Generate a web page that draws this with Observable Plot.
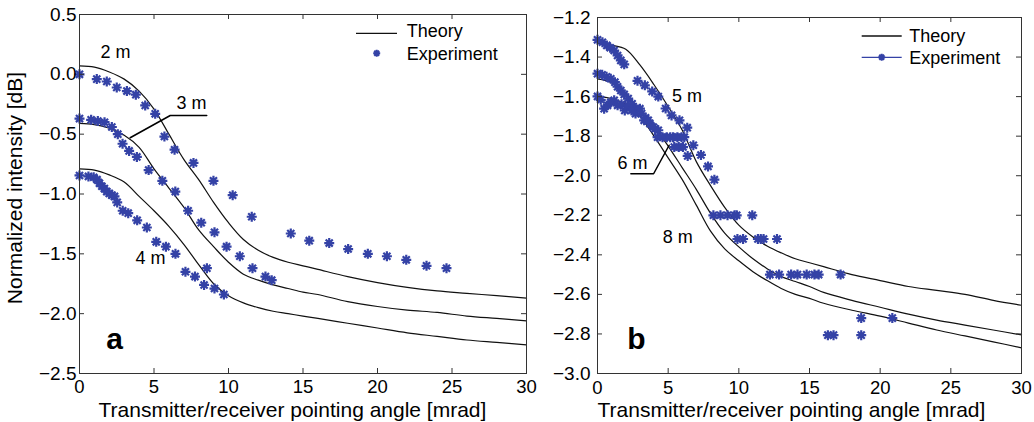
<!DOCTYPE html>
<html><head><meta charset="utf-8">
<script src="https://cdn.jsdelivr.net/npm/d3@7"></script>
<script src="https://cdn.jsdelivr.net/npm/@observablehq/plot@0.6"></script>
<style>
html,body{margin:0;padding:0;background:#fff;}
#wrap{display:flex;width:1034px;height:422px;overflow:hidden;}
#wrap svg{display:block;}
</style></head><body><div id="wrap"></div>
<script>
// ---------- data ----------
const angleGrid = [0,1,2,3,4,5,6,7,8,9,10,11,12,13,14,15,16,18,20,22,24,26,28,30];
const xTicks = [0,5,10,15,20,25,30];
const yTicksA = [-2.5,-2.0,-1.5,-1.0,-0.5,0.0,0.5];
const yTicksB = [-3.0,-2.8,-2.6,-2.4,-2.2,-2.0,-1.8,-1.6,-1.4,-1.2];

// panel a theory (2 m, 3 m, 4 m)
const theoryA2 = [0.07,0.06,0.02,-0.04,-0.14,-0.29,-0.50,-0.71,-0.88,-1.07,-1.24,-1.38,-1.47,-1.53,-1.57,-1.60,-1.63,-1.69,-1.74,-1.78,-1.81,-1.83,-1.85,-1.87];
const theoryA3 = [-0.41,-0.42,-0.45,-0.51,-0.61,-0.79,-0.95,-1.11,-1.30,-1.44,-1.57,-1.67,-1.72,-1.76,-1.79,-1.82,-1.84,-1.90,-1.94,-1.97,-1.99,-2.02,-2.04,-2.06];
const theoryA4 = [-0.79,-0.80,-0.84,-0.90,-1.02,-1.14,-1.27,-1.42,-1.59,-1.75,-1.85,-1.91,-1.95,-1.98,-2.00,-2.02,-2.04,-2.08,-2.12,-2.16,-2.19,-2.22,-2.24,-2.26];

// panel a experiment
const expA2 = [[0,0.0],[1.16,-0.04],[1.83,-0.06],[2.5,-0.11],[3.18,-0.14],[3.78,-0.17],[4.41,-0.26],[5.08,-0.33],[5.7,-0.52],[6.38,-0.63],[7.65,-0.74],[8.99,-0.89],[10.28,-1.01],[11.56,-1.19],[14.18,-1.33],[15.42,-1.39],[16.76,-1.41],[18.03,-1.46],[19.35,-1.50],[20.63,-1.52],[21.93,-1.55],[23.29,-1.60],[24.63,-1.62]];
const expA3 = [[0,-0.37],[0.78,-0.38],[1.23,-0.39],[1.68,-0.40],[2.17,-0.44],[2.57,-0.50],[2.89,-0.58],[3.33,-0.64],[3.85,-0.69],[4.64,-0.80],[5.56,-0.89],[6.43,-0.98],[7.29,-1.14],[8.17,-1.24],[9.06,-1.32],[9.87,-1.44],[10.76,-1.52],[11.61,-1.62],[12.48,-1.69],[12.9,-1.72]];
const expA4 = [[0,-0.845],[0.6,-0.853],[0.95,-0.86],[1.18,-0.88],[1.34,-0.91],[1.5,-0.935],[1.67,-0.955],[1.83,-0.98],[2.0,-0.995],[2.17,-1.01],[2.35,-1.02],[2.53,-1.07],[2.9,-1.14],[3.27,-1.16],[3.87,-1.22],[4.52,-1.28],[5.15,-1.40],[5.8,-1.44],[6.44,-1.50],[7.11,-1.65],[7.75,-1.69],[8.36,-1.76],[8.55,-1.62],[9.06,-1.79],[9.69,-1.84]];

// panel b theory (5 m, 6 m, 8 m)
const theoryB5 = [-1.33,-1.34,-1.36,-1.44,-1.54,-1.65,-1.77,-1.93,-2.05,-2.16,-2.25,-2.31,-2.355,-2.39,-2.42,-2.44,-2.46,-2.50,-2.53,-2.56,-2.58,-2.60,-2.63,-2.655];
const theoryB6 = [-1.51,-1.53,-1.59,-1.67,-1.75,-1.85,-1.96,-2.07,-2.19,-2.29,-2.36,-2.42,-2.47,-2.51,-2.535,-2.56,-2.59,-2.63,-2.665,-2.70,-2.73,-2.755,-2.78,-2.805];
const theoryB8 = [-1.60,-1.61,-1.64,-1.70,-1.80,-1.91,-2.02,-2.15,-2.28,-2.37,-2.43,-2.485,-2.53,-2.57,-2.60,-2.62,-2.645,-2.68,-2.71,-2.745,-2.78,-2.81,-2.84,-2.87];

// panel b experiment
const expB5 = [[0,-1.313],[0.35,-1.325],[0.66,-1.341],[0.9,-1.353],[1.18,-1.367],[1.42,-1.392],[1.65,-1.417],[1.89,-1.437],[2.83,-1.52],[3.35,-1.543],[3.87,-1.574],[4.3,-1.60],[4.82,-1.66],[5.24,-1.695],[5.8,-1.72],[6.35,-1.757],[6.78,-1.846],[7.32,-1.895],[7.82,-1.953],[8.27,-2.02],
  [8.2,-2.2],[8.7,-2.2],[9.2,-2.2],[9.7,-2.2],[9.85,-2.2],[10.95,-2.2],
  [9.9,-2.32],[10.3,-2.32],[11.35,-2.32],[11.55,-2.32],[11.75,-2.32],[12.7,-2.32],
  [12.2,-2.5],[12.85,-2.5],[13.7,-2.5],[14.15,-2.5],[14.8,-2.5],[15.35,-2.5],[15.65,-2.5],[17.2,-2.5]];
const expB6 = [[0,-1.484],[0.33,-1.49],[0.64,-1.50],[0.94,-1.51],[1.23,-1.527],[1.42,-1.55],[1.65,-1.569],[1.89,-1.589],[2.17,-1.61],[2.45,-1.636],[2.69,-1.661],[3.12,-1.686],[3.4,-1.707],[3.71,-1.737],[4.06,-1.762],
  [4.25,-1.805],[4.6,-1.805],[4.9,-1.805],[5.15,-1.805],[5.35,-1.805],[5.65,-1.805],[5.95,-1.805],[6.14,-1.805],
  [5.43,-1.855],[5.75,-1.855],[6.05,-1.855],[6.38,-1.9],
  [16.3,-2.806],[16.7,-2.806],[18.66,-2.806],[18.66,-2.72],[20.86,-2.72]];
const expB8 = [[0,-1.599],[0.23,-1.616],[0.47,-1.661],[0.71,-1.644],[0.94,-1.628],[1.18,-1.619],[1.42,-1.644],[1.7,-1.639],[1.93,-1.67],[2.17,-1.644],[2.41,-1.67],[2.69,-1.686],[3.0,-1.661],[3.3,-1.72],[3.59,-1.72],[3.94,-1.754],[4.3,-1.77]];

// annotations
const labelsA = [{t:"2 m",x:2.42,y:0.183},{t:"3 m",x:7.52,y:-0.243},{t:"4 m",x:4.77,y:-1.54}];
const leaderA = [{x:3.40,y:-0.53},{x:6.09,y:-0.344},{x:8.54,y:-0.344}];
const labelsB = [{t:"5 m",x:6.33,y:-1.60},{t:"6 m",x:2.48,y:-1.939},{t:"8 m",x:5.67,y:-2.31}];
const leaderB = [{x:2.36,y:-1.99},{x:3.97,y:-1.99},{x:5.07,y:-1.846}];

const legendLabels = ["Theory","Experiment"];
const xLabel = "Transmitter/receiver pointing angle [mrad]";
const yLabel = "Normalized intensity [dB]";

// ---------- drawing ----------
const FONT = '"Liberation Sans", Arial, Helvetica, sans-serif';
const STAR = "#3442a6";
const star8 = {draw(ctx, size){
  const r = Math.sqrt(size/Math.PI), d = r*Math.SQRT1_2;
  ctx.moveTo(-r,0); ctx.lineTo(r,0);
  ctx.moveTo(0,-r); ctx.lineTo(0,r);
  ctx.moveTo(-d,-d); ctx.lineTo(d,d);
  ctx.moveTo(-d,d); ctx.lineTo(d,-d);
}};
const fmt1 = d3.format(".1f");

function panel(cfg){
  const {width,height,ml,mr,mt,mb,yDomain,yTicks,yPad,xPad,curves,exps,labels,leader,letter,letterDx,xLabelDx,withYLabel} = cfg;
  const plotW = width-ml-mr, plotH = height-mt-mb;
  const marks = [
    ...curves.map(c => Plot.line(angleGrid.map((x,i)=>({x, y:c[i]})), {x:"x", y:"y", stroke:"#111", strokeWidth:1.2, curve:"catmull-rom"})),
    ...exps.map(e => Plot.dot(e, {x:d=>d[0], y:d=>d[1], symbol:star8, r:5, stroke:STAR, strokeWidth:2.2, fill:"none"})),
    Plot.line(leader, {x:"x", y:"y", stroke:"#000", strokeWidth:1.5}),
    Plot.text(labels, {x:"x", y:"y", text:"t", fontSize:18, fill:"#000"}),
    Plot.frame({stroke:"#333", strokeWidth:1}),
    Plot.tickX(xTicks, {x:d=>d, insetTop:plotH-5, stroke:"#333"}),
    Plot.tickX(xTicks, {x:d=>d, insetBottom:plotH-5, stroke:"#333"}),
    Plot.tickY(yTicks, {y:d=>d, insetLeft:plotW-5, stroke:"#333"}),
    Plot.tickY(yTicks, {y:d=>d, insetRight:plotW-5, stroke:"#333"}),
    Plot.axisX(xTicks, {tickSize:0, tickPadding:xPad, label:null, fill:"#000", fontSize:18.5}),
    Plot.axisY(yTicks, {tickSize:0, tickPadding:yPad, tickFormat:fmt1, label:null, fill:"#000", fontSize:19}),
    Plot.text([xLabel], {text:d=>d, frameAnchor:"bottom-left", textAnchor:"start", lineAnchor:"bottom", dx:xLabelDx, dy:43, fontSize:21, fill:"#000"}),
    Plot.text([letter], {text:d=>d, frameAnchor:"bottom-left", textAnchor:"middle", lineAnchor:"bottom", dx:letterDx, dy:-25, fontSize:30, fontWeight:"bold", fill:"#000"})
  ];
  if (withYLabel) marks.push(Plot.text([yLabel], {text:d=>d, frameAnchor:"left", rotate:-90, textAnchor:"middle", lineAnchor:"bottom", dx:-57.5, dy:-6, fontSize:21, fill:"#000"}));
  return Plot.plot({
    width, height, marginLeft:ml, marginRight:mr, marginTop:mt, marginBottom:mb,
    x:{domain:[0,30]}, y:{domain:yDomain},
    style:{fontFamily:FONT, fontSize:"19px", background:"#fff", color:"#000", overflow:"visible"},
    marks
  });
}

function addLegend(svg, lx1, lx2, lineY1, textX, base1, base2, markX, markY, expLine){
  const g = d3.select(svg).append("g").attr("font-family", FONT).attr("font-size", 18).attr("fill", "#000").attr("text-anchor", "start");
  g.append("line").attr("x1",lx1).attr("x2",lx2).attr("y1",lineY1).attr("y2",lineY1).attr("stroke","#111").attr("stroke-width",1.3);
  g.append("text").attr("x",textX).attr("y",base1).attr("text-anchor","start").text(legendLabels[0]);
  if (expLine) g.append("line").attr("x1",lx1).attr("x2",lx2).attr("y1",markY).attr("y2",markY).attr("stroke",STAR).attr("stroke-width",1.3);
  g.append("path").attr("transform",`translate(${markX},${markY})`).attr("d", d3.symbol().type(star8).size(Math.PI*3.5*3.5)()).attr("stroke",STAR).attr("stroke-width",2).attr("fill","none");
  g.append("text").attr("x",textX).attr("y",base2).attr("text-anchor","start").text(legendLabels[1]);
}

const svgA = panel({width:540,height:422,ml:79,mr:14,mt:14,mb:49,yDomain:[-2.5,0.5],yTicks:yTicksA,yPad:3,xPad:6,
  curves:[theoryA2,theoryA3,theoryA4], exps:[expA2,expA3,expA4], labels:labelsA, leader:leaderA, letter:"a", letterDx:35, xLabelDx:19, withYLabel:true});
addLegend(svgA, 356, 397, 33.3, 406.7, 36.5, 59.5, 376.7, 53.3, false);

const svgB = panel({width:494,height:422,ml:57,mr:13,mt:17,mb:49,yDomain:[-3.0,-1.2],yTicks:yTicksB,yPad:7,xPad:7,
  curves:[theoryB5,theoryB6,theoryB8], exps:[expB5,expB6,expB8], labels:labelsB, leader:leaderB, letter:"b", letterDx:39, xLabelDx:0, withYLabel:false});
addLegend(svgB, 321.7, 361.7, 36, 369.3, 41.5, 64, 341.7, 57.3, true);

document.getElementById("wrap").append(svgA, svgB);
</script></body></html>
